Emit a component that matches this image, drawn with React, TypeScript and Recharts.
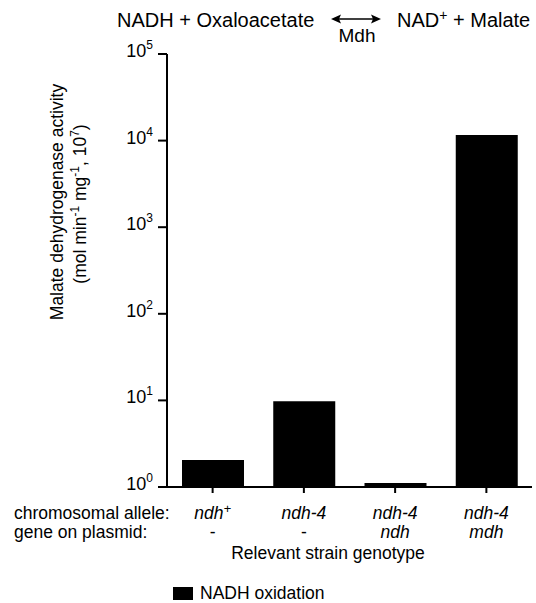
import { Bar, BarChart, Legend, XAxis, YAxis } from 'recharts';

const FONT = '"Liberation Sans", Arial, Helvetica, sans-serif';

// strain genotypes (x categories)
const alleles = ['ndh+', 'ndh-4', 'ndh-4', 'ndh-4'];
const plasmids = ['-', '-', 'ndh', 'mdh'];
// NADH oxidation activity
const activity = [2.05, 9.8, 1.11, 11600];
const yTicks = [1, 10, 100, 1000, 10000, 100000];
const rowHeaders = ['chromosomal allele:', 'gene on plasmid:'];

const data = alleles.map((allele, i) => ({
  strain: `${allele} / ${plasmids[i]}`,
  activity: activity[i],
}));

/** "ndh+" -> ndh with superscript plus */
function genoText(s: string) {
  if (s.endsWith('+')) {
    return (
      <>
        {s.slice(0, -1)}
        <tspan fontSize={13} dy={-6}>+</tspan>
      </>
    );
  }
  return s;
}

function YTick({ y, payload }: { y: number; payload: { value: number } }) {
  const exp = Math.round(Math.log10(payload.value));
  return (
    <text x={153} y={y + 3} textAnchor="end" fontSize={18} fill="#000" fontFamily={FONT}>
      10<tspan fontSize={12} dy={-8}>{exp}</tspan>
    </text>
  );
}

function XTick({ x, y, payload }: { x: number; y: number; payload: { index: number } }) {
  const i = payload.index;
  const pl = plasmids[i];
  return (
    <g fontFamily={FONT} fontSize={17.5} fill="#000">
      <text x={x} y={y + 24} textAnchor="middle" fontStyle="italic">
        {genoText(alleles[i])}
      </text>
      <text x={x} y={y + 43} textAnchor="middle" fontStyle={pl === '-' ? 'normal' : 'italic'}>
        {pl}
      </text>
    </g>
  );
}

function XLabel() {
  return (
    <g fontFamily={FONT} fontSize={17.5} fill="#000">
      <text x={14} y={519}>{rowHeaders[0]}</text>
      <text x={14} y={538}>{rowHeaders[1]}</text>
      <text x={328} y={559} textAnchor="middle">Relevant strain genotype</text>
    </g>
  );
}

function YLabel() {
  return (
    <g fontFamily={FONT} fontSize={17.5} fill="#000">
      <text x={63} y={202} textAnchor="middle" transform="rotate(-90, 63, 202)">
        Malate dehydrogenase activity
      </text>
      <text x={86} y={204} textAnchor="middle" transform="rotate(-90, 86, 204)">
        (mol min<tspan fontSize={12} dy={-7}>-1</tspan>
        <tspan dy={7}> mg</tspan>
        <tspan fontSize={12} dy={-7}>-1</tspan>
        <tspan dy={7}>,  10</tspan>
        <tspan fontSize={12} dy={-7}>7</tspan>
        <tspan dy={7}>)</tspan>
      </text>
    </g>
  );
}

function LegendBox({ payload }: { payload?: Array<{ value: string; color: string }> }) {
  const item = payload?.[0];
  if (!item) return null;
  return (
    <svg width={536} height={24} style={{ display: 'block' }}>
      <rect x={173} y={8} width={20} height={13} fill={item.color} />
      <text x={200} y={20} fontSize={17.5} fontFamily={FONT} fill="#000">
        {item.value}
      </text>
    </svg>
  );
}

function Title() {
  return (
    <svg width={536} height={50} style={{ position: 'absolute', left: 0, top: 0, pointerEvents: 'none' }}>
      <g fontFamily={FONT} fill="#000">
        <text x={117} y={27} fontSize={20}>NADH + Oxaloacetate</text>
        <line x1={338} y1={19} x2={374} y2={19} stroke="#000" strokeWidth={1.5} />
        <polygon points="331,19 341,14.5 339,19 341,23.5" fill="#000" />
        <polygon points="381,19 371,14.5 373,19 371,23.5" fill="#000" />
        <text x={357} y={42} fontSize={19} textAnchor="middle">Mdh</text>
        <text x={397} y={27} fontSize={20}>
          NAD<tspan fontSize={14} dy={-7}>+</tspan>
          <tspan dy={7}> + Malate</tspan>
        </text>
      </g>
    </svg>
  );
}

export default function App() {
  return (
    <div style={{ position: 'absolute', left: 0, top: 0, width: 536, height: 603, background: '#fff' }}>
      <BarChart width={536} height={603} data={data} margin={{ top: 54, right: 4, bottom: 0, left: 0 }}>
        <XAxis
          dataKey="strain"
          interval={0}
          height={92}
          axisLine={{ stroke: '#000', strokeWidth: 2 }}
          tickLine={{ stroke: '#000', strokeWidth: 2 }}
          tickSize={6}
          tick={(p: any) => <XTick {...p} />}
          label={<XLabel />}
        />
        <YAxis
          scale="log"
          domain={[1, 100000]}
          ticks={yTicks}
          allowDataOverflow
          width={167}
          axisLine={{ stroke: '#000', strokeWidth: 2 }}
          tickLine={{ stroke: '#000', strokeWidth: 2 }}
          tickSize={9}
          tick={(p: any) => <YTick {...p} />}
          label={<YLabel />}
        />
        <Legend verticalAlign="bottom" content={(p: any) => <LegendBox payload={p.payload} />} />
        <Bar dataKey="activity" name="NADH oxidation" fill="#000" barSize={62} isAnimationActive={false} />
      </BarChart>
      <Title />
    </div>
  );
}
